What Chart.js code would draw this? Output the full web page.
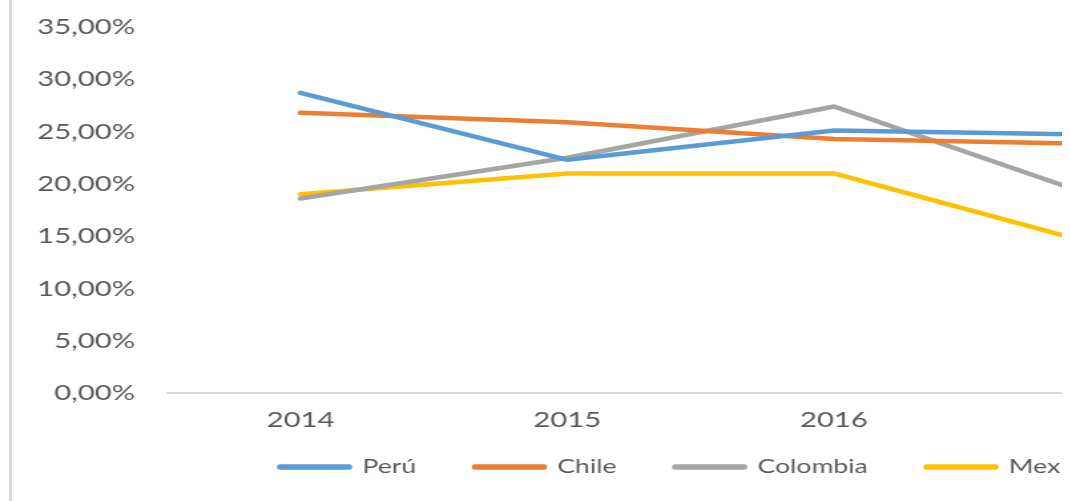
<!DOCTYPE html>
<html>
<head>
<meta charset="utf-8">
<script src="https://cdn.jsdelivr.net/npm/chart.js@4.4.1/dist/chart.umd.min.js"></script>
<style>
  html, body { margin: 0; padding: 0; background: #fff; overflow: hidden; }
  #clip { position: absolute; left: 0; top: 0; width: 1062px; height: 501px; overflow: hidden; }
  #frame { position: absolute; left: 9px; top: 0; width: 3px; height: 501px; background: #d9d9d9; }
  #wrap { position: absolute; left: 0; top: 0; width: 950px; height: 501px; transform: scaleX(1.33); transform-origin: 0 0; }
</style>
</head>
<body>
<div id="clip">
  <div id="wrap"><canvas id="chart"></canvas></div>
</div>
<div id="frame"></div>
<script>
const years = ['2014', '2015', '2016', '2017'];
const peru = [28.7, 22.3, 25.1, 24.7];
const chile = [26.8, 25.9, 24.3, 23.8];
const colombia = [18.6, 22.5, 27.4, 18.6];
const mexico = [19.0, 21.0, 21.0, 14.1];
const yTicks = [0, 5, 10, 15, 20, 25, 30, 35];

const textColor = '#595959';
const fontFamily = 'Lato, "Open Sans", sans-serif';
const legendPad = 44;

// put the legend where the original has it (first item starts x~210, text centre y~467)
const legendPlace = {
  id: 'legendPlace',
  afterLayout(chart) {
    const l = chart.legend;
    const startX = (l.left + legendPad + l.right - l.lineWidths[0]) / 2;
    const dx = 210.5 - startX;
    l.left += dx;
    l.right += dx;
    const top = 467 - legendPad - 10;
    l.bottom = top + l.height;
    l.top = top;
  }
};

function line(label, data, color) {
  return {
    label: label,
    data: data,
    borderColor: color,
    backgroundColor: color,
    borderWidth: 4.5,
    borderCapStyle: 'round',
    borderJoinStyle: 'round',
    pointRadius: 0,
    tension: 0,
    fill: false
  };
}

new Chart(document.getElementById('chart'), {
  type: 'line',
  data: {
    labels: years,
    datasets: [
      line('Perú', peru, '#5B9BD5'),
      line('Chile', chile, '#ED7D31'),
      line('Colombia', colombia, '#A5A5A5'),
      line('Mex', mexico, '#FFC000')
    ]
  },
  options: {
    responsive: true,
    maintainAspectRatio: false,
    animation: false,
    layout: { padding: { top: 27, left: 0, right: 22, bottom: -8 } },
    plugins: {
      tooltip: { enabled: false },
      legend: {
        position: 'bottom',
        labels: {
          boxWidth: 52,
          boxHeight: 1,
          padding: legendPad,
          color: textColor,
          font: { family: fontFamily, size: 20 }
        }
      }
    },
    scales: {
      x: {
        offset: true,
        grid: { display: false, drawTicks: false },
        border: { display: true, color: '#d9d9d9', width: 2 },
        ticks: { color: textColor, padding: 14, font: { family: fontFamily, size: 22 } },
        afterFit: (s) => { s.height = 42; }
      },
      y: {
        min: 0,
        max: 35,
        grid: { display: false, drawTicks: true, tickLength: 22 },
        border: { display: false },
        afterBuildTicks: (s) => { s.ticks = yTicks.map(v => ({ value: v })); },
        afterFit: (s) => { s.width = 125.6; },
        ticks: {
          color: textColor,
          padding: 2,
          font: { family: fontFamily, size: 22 },
          callback: (v) => v.toFixed(2).replace('.', ',') + '%'
        }
      }
    }
  },
  plugins: [legendPlace]
});
</script>
</body>
</html>
